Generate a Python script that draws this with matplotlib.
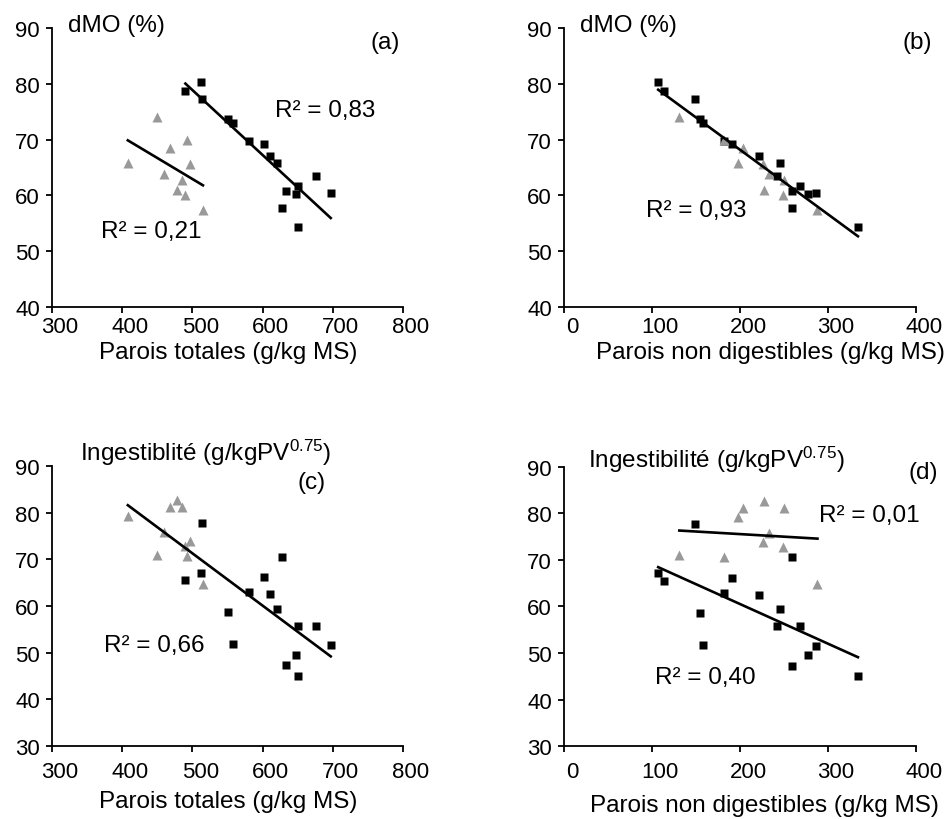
import matplotlib
matplotlib.use('Agg')
import matplotlib.pyplot as plt
import matplotlib.transforms as mtransforms
import numpy as np

plt.rcParams['font.family'] = ['Liberation Sans', 'DejaVu Sans']
plt.rcParams['mathtext.default'] = 'regular'

# black squares (16 forages)
pt_black = [512, 490, 513, 550, 558, 581, 602, 611, 620, 676, 651, 648, 633, 697, 627, 651]
pnd_black = [107, 114, 149, 155, 158, 182, 191, 222, 245, 242, 268, 277, 259, 286, 259, 334]
dmo_black = [80.4, 78.8, 77.3, 73.7, 73.0, 69.7, 69.2, 67.0, 65.8, 63.5, 61.7, 60.2, 60.8, 60.4, 57.7, 54.3]
ing_black = [67.1, 65.5, 77.7, 58.7, 51.8, 62.9, 66.2, 62.5, 59.4, 55.7, 55.7, 49.5, 47.3, 51.6, 70.6, 45.1]

# grey triangles (10 forages)
pt_grey = [449, 492, 468, 408, 497, 459, 485, 478, 490, 515]
pnd_grey = [131, 182, 203, 198, 226, 233, 250, 227, 249, 288]
dmo_grey = [74.1, 70.0, 68.5, 65.8, 65.6, 63.8, 62.8, 61.0, 60.0, 57.3]
ing_grey = [71.0, 70.7, 81.2, 79.3, 73.9, 75.9, 81.2, 82.7, 72.9, 64.8]

r2_labels = {'a': ['R² = 0,83', 'R² = 0,21'], 'b': ['R² = 0,93'],
             'c': ['R² = 0,66'], 'd': ['R² = 0,01', 'R² = 0,40']}

GREY = '#999999'
FS = 17.5      # annotations, titles, axis labels
FS_TICK = 16


def trend(ax, x, y):
    x = np.asarray(x, float)
    y = np.asarray(y, float)
    p = np.polyfit(x, y, 1)
    xs = np.array([x.min(), x.max()])
    ax.plot(xs, np.polyval(p, xs), color='k', lw=1.9, zorder=4)


def scatter(ax, xb, yb, xg, yg):
    ax.plot(xb, yb, ls='none', marker='s', ms=5.3, color='k', mec='none', zorder=3)
    ax.plot(xg, yg, ls='none', marker='^', ms=6.8, color=GREY, mec='none', zorder=3)


def style(ax, xlim, xticks, ylim, yticks, xpad):
    ax.set_xlim(xlim)
    ax.set_ylim(ylim)
    ax.set_xticks(xticks)
    ax.set_yticks(yticks)
    for s in ['top', 'right']:
        ax.spines[s].set_visible(False)
    for s in ['left', 'bottom']:
        ax.spines[s].set_linewidth(1.3)
    ax.tick_params(direction='out', length=4, width=1.3, labelsize=FS_TICK)
    ax.tick_params(axis='y', pad=4.6)
    ax.tick_params(axis='x', pad=xpad)
    off = mtransforms.ScaledTranslation(0.08, 0, ax.figure.dpi_scale_trans)
    for lab in ax.get_xticklabels():
        lab.set_transform(lab.get_transform() + off)


fig = plt.figure(figsize=(9.51, 8.2), dpi=100)
axA = fig.add_axes([0.0547, 0.6244, 0.3691, 0.3402])
axB = fig.add_axes([0.5931, 0.6244, 0.3701, 0.3402])
axC = fig.add_axes([0.0547, 0.0890, 0.3691, 0.3415])
axD = fig.add_axes([0.5931, 0.0890, 0.3701, 0.3403])

# (a)
scatter(axA, pt_black, dmo_black, pt_grey, dmo_grey)
trend(axA, pt_black, dmo_black)
trend(axA, pt_grey, dmo_grey)
style(axA, (300, 800), range(300, 801, 100), (40, 90), range(40, 91, 10), 2.5)
axA.text(689, 75.3, r2_labels['a'][0], fontsize=FS, ha='center', va='center')
axA.text(442, 53.6, r2_labels['a'][1], fontsize=FS, ha='center', va='center')
axA.text(0.046, 1.011, 'dMO (%)', transform=axA.transAxes, fontsize=FS, ha='left', va='center')
axA.text(0.949, 0.95, '(a)', transform=axA.transAxes, fontsize=FS, ha='center', va='center')
axA.text(0.501, -0.163, 'Parois totales (g/kg MS)', transform=axA.transAxes,
         fontsize=FS, ha='center', va='center')

# (b)
scatter(axB, pnd_black, dmo_black, pnd_grey, dmo_grey)
trend(axB, pnd_black + pnd_grey, dmo_black + dmo_grey)
style(axB, (0, 400), range(0, 401, 100), (40, 90), range(40, 91, 10), 2.5)
axB.text(150, 57.4, r2_labels['b'][0], fontsize=FS, ha='center', va='center')
axB.text(0.045, 1.011, 'dMO (%)', transform=axB.transAxes, fontsize=FS, ha='left', va='center')
axB.text(1.003, 0.95, '(b)', transform=axB.transAxes, fontsize=FS, ha='center', va='center')
axB.text(0.587, -0.163, 'Parois non digestibles (g/kg MS)', transform=axB.transAxes,
         fontsize=FS, ha='center', va='center')

# (c)
scatter(axC, pt_black, ing_black, pt_grey, ing_grey)
trend(axC, pt_black + pt_grey, ing_black + ing_grey)
style(axC, (300, 800), range(300, 801, 100), (30, 90), range(30, 91, 10), 6.8)
axC.text(445, 51.7, r2_labels['c'][0], fontsize=FS, ha='center', va='center')
axC.text(0.08, 1.052, 'Ingestiblité (g/kgPV$^{0.75}$)', transform=axC.transAxes,
         fontsize=FS, ha='left', va='center')
axC.text(0.738, 0.944, '(c)', transform=axC.transAxes, fontsize=FS, ha='center', va='center')
axC.text(0.501, -0.197, 'Parois totales (g/kg MS)', transform=axC.transAxes,
         fontsize=FS, ha='center', va='center')

# (d)
scatter(axD, pnd_black, ing_black, pnd_grey, ing_grey)
trend(axD, pnd_black, ing_black)
trend(axD, pnd_grey, ing_grey)
style(axD, (0, 400), range(0, 401, 100), (30, 90), range(30, 91, 10), 6.8)
axD.text(347, 79.6, r2_labels['d'][0], fontsize=FS, ha='center', va='center')
axD.text(160, 44.9, r2_labels['d'][1], fontsize=FS, ha='center', va='center')
axD.text(0.068, 1.029, 'Ingestibilité (g/kgPV$^{0.75}$)', transform=axD.transAxes,
         fontsize=FS, ha='left', va='center')
axD.text(1.02, 0.982, '(d)', transform=axD.transAxes, fontsize=FS, ha='center', va='center')
axD.text(0.568, -0.21, 'Parois non digestibles (g/kg MS)', transform=axD.transAxes,
         fontsize=FS, ha='center', va='center')

fig.savefig('out.png', dpi=100, facecolor='white')
